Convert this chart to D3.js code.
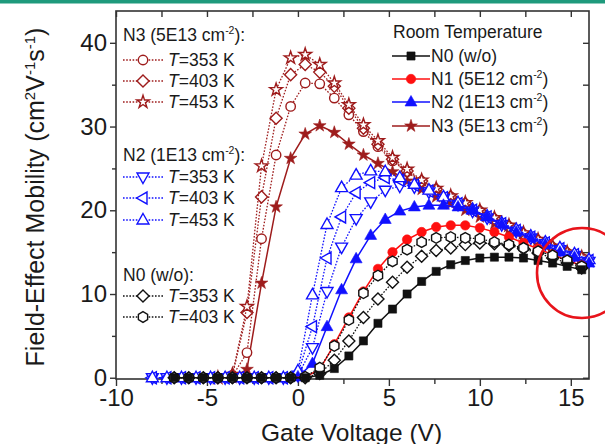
<!DOCTYPE html>
<meta charset="utf-8">
<body style="margin:0;background:#fff">
<svg id="chart" width="605" height="444"></svg>
<script src="https://d3js.org/d3.v7.min.js"></script>
<style>
  text { font-family: "Liberation Sans", Arial, sans-serif; fill: #1a1a1a; }
</style>
<script>
// gate voltage sweeps (two interleaved grids used by the measurements)
var gridA = [-7.6, -6.8, -6.0, -5.2, -4.4, -3.6, -2.8, -2.0, -1.2, -0.4, 0.4, 1.2, 2.0, 2.8, 3.6,
  4.4, 5.2, 6.0, 6.8, 7.6, 8.4, 9.2, 10.0, 10.8, 11.6, 12.4, 13.2, 14.0, 14.8, 15.6]
var gridB = [-8.0, -7.2, -6.4, -5.6, -4.8, -4.0, -3.2, -2.4, -1.6, -0.8, 0.0, 0.8, 1.6, 2.4, 3.2,
  4.0, 4.8, 5.6, 6.4, 7.2, 8.0, 8.8, 9.6, 10.4, 11.2, 12.0, 12.8, 13.6, 14.4, 15.2, 16.0]

// room temperature (gridA unless noted)
var n0RT = [null, 0, 0, 0, 0, 0, 0, 0, 0, 0, 0, 0.3, 1.1, 2.6, 4.4,
  6.5, 8.2, 10.0, 11.5, 12.7, 13.5, 14.0, 14.3, 14.4, 14.4, 14.3, 14.0, 13.7, 13.3, 12.9]
var n1RT = [null, null, null, null, null, null, null, null, null, 0, 0.1, 1.0, 4.0, 7.2, 10.3,
  13.0, 15.0, 16.5, 17.4, 18.0, 18.2, 18.2, 17.9, 17.4, 16.8, 16.1, 15.4, 14.7, 14.0, 13.4]
var n2RT = [null, null, null, null, null, null, null, null, null, null, 0.1, 1.7, 6.1, 10.5, 14.2,
  17.0, 18.9, 19.9, 20.4, 20.6, 20.6, 20.4, 20.0, 19.2, 18.3, 17.4, 16.7, 15.9, 15.0, 14.4, 13.7] // gridB
var n3RT = [null, null, null, null, null, 0, 1.0, 11.3, 20.4, 26.2, 29.1, 30.1, 29.3, 27.9, 26.6,
  25.6, 24.6, 23.5, 22.5, 21.6, 20.8, 20.0, 19.2, 18.4, 17.6, 16.8, 16.0, 15.2, 14.5, 13.8]

// N3 (5E13) at high temperature (gridA)
var n3T353 = [null, null, null, null, 0, 0.2, 3.0, 16.6, 26.6, 32.4, 35.2, 35.1, 33.4, 31.4, 29.4,
  27.6, 25.9, 24.6, 23.4, 22.4, 21.6, 20.7, 19.8, 18.9, 18.0, 17.1, 16.3, 15.5, 14.9, 14.3]
var n3T403 = [null, null, null, null, 0, 0.3, 7.8, 21.6, 31.0, 36.2, 37.4, 36.5, 34.8, 32.2, 29.8,
  27.9, 26.1, 24.7, 23.5, 22.5, 21.6, 20.8, 19.9, 19.0, 18.1, 17.2, 16.4, 15.6, 14.9, 14.3]
var n3T453 = [null, null, null, null, 0, 0.4, 8.5, 25.3, 34.4, 38.2, 38.6, 37.4, 35.2, 32.6, 30.2,
  28.3, 26.3, 24.9, 23.6, 22.6, 21.7, 20.9, 20.0, 19.1, 18.2, 17.3, 16.5, 15.7, 15.0, 14.4]

// N2 (1E13) at high temperature (gridB)
var n2T353 = [0, 0, 0, 0, 0, 0, 0, 0, 0, 0, 0.3, 3.6, 10.3, 15.6, 19.0,
  21.0, 22.4, 22.9, 22.8, 22.2, 21.4, 20.7, 19.9, 19.1, 18.3, 17.5, 16.7, 16.0, 15.3, 14.6, 13.9]
var n2T403 = [0, 0, 0, 0, 0, 0, 0, 0, 0, 0, 0.5, 6.1, 14.3, 19.2, 22.1,
  23.3, 23.9, 23.6, 23.0, 22.3, 21.5, 20.8, 20.0, 19.2, 18.4, 17.6, 16.8, 16.1, 15.4, 14.7, 14.0]
var n2T453 = [0, 0, 0, 0, 0, 0, 0, 0, 0, 0, 0.8, 9.9, 18.3, 22.7, 24.2,
  24.7, 24.6, 23.9, 23.1, 22.4, 21.6, 20.9, 20.1, 19.3, 18.5, 17.7, 16.9, 16.2, 15.5, 14.8, 14.1]

// N0 (w/o) at high temperature (gridA)
var n0T353 = [null, 0, 0, 0, 0, 0, 0, 0, 0, 0, 0, 0.5, 2.1, 4.4, 7.2,
  9.4, 11.4, 13.2, 14.5, 15.2, 15.5, 15.9, 16.1, 16.0, 15.8, 15.4, 14.9, 14.3, 13.7, 13.1]
var n0T403 = [null, 0, 0, 0, 0, 0, 0, 0, 0, 0, 0.1, 1.2, 3.8, 6.9, 10.1,
  12.2, 13.9, 15.3, 16.2, 16.7, 16.8, 16.7, 16.6, 16.2, 15.9, 15.5, 15.1, 14.6, 14.0, 13.3]

var xTicks = [-10, -5, 0, 5, 10, 15]
var yTicks = [0, 10, 20, 30, 40]

var DARK = '#9e1c1c', RED = '#ff1010', BLUE = '#1010ff', BLACK = '#111'

// custom marker shapes
function poly(pts) {
  return { draw: function (ctx, size) {
    var r = Math.sqrt(size)
    pts.forEach(function (p, i) { i ? ctx.lineTo(p[0] * r, p[1] * r) : ctx.moveTo(p[0] * r, p[1] * r) })
    ctx.closePath()
  } }
}
var hexPts = d3.range(6).map(function (i) { var a = Math.PI / 3 * i - Math.PI / 2; return [0.62 * Math.cos(a), 0.62 * Math.sin(a)] })
var shapes = {
  square: d3.symbolSquare,
  circle: d3.symbolCircle,
  star: d3.symbolStar,
  hex: poly(hexPts),
  diamond: poly([[0, -0.7], [0.7, 0], [0, 0.7], [-0.7, 0]]),
  up: poly([[0, -0.72], [0.66, 0.44], [-0.66, 0.44]]),
  down: poly([[0, 0.72], [0.66, -0.44], [-0.66, -0.44]]),
  left: poly([[-0.72, 0], [0.44, -0.66], [0.44, 0.66]])
}
var sizes = { square: 66, circle: 70, star: 50, hex: 74, diamond: 74, up: 82, down: 82, left: 82 }

// drawing order, back to front
var series = [
  { x: gridA, y: n3RT, color: DARK, shape: 'star', filled: true, dotted: false },
  { x: gridA, y: n3T353, color: DARK, shape: 'circle', filled: false, dotted: true },
  { x: gridA, y: n3T403, color: DARK, shape: 'diamond', filled: false, dotted: true },
  { x: gridA, y: n3T453, color: DARK, shape: 'star', filled: false, dotted: true },
  { x: gridB, y: n2T353, color: BLUE, shape: 'down', filled: false, dotted: true },
  { x: gridB, y: n2T403, color: BLUE, shape: 'left', filled: false, dotted: true },
  { x: gridB, y: n2T453, color: BLUE, shape: 'up', filled: false, dotted: true },
  { x: gridB, y: n2RT, color: BLUE, shape: 'up', filled: true, dotted: false },
  { x: gridA, y: n1RT, color: RED, shape: 'circle', filled: true, dotted: false },
  { x: gridA, y: n0T353, color: BLACK, shape: 'diamond', filled: false, dotted: true },
  { x: gridA, y: n0T403, color: BLACK, shape: 'hex', filled: false, dotted: true },
  { x: gridA, y: n0RT, color: BLACK, shape: 'square', filled: true, dotted: false }
]

var svg = d3.select('#chart')
var pL = 116, pR = 589, pT = 11, pB = 379

var x = d3.scaleLinear().domain([-10, 16]).range([pL, pR])
var y = d3.scaleLinear().domain([-0.15, 43.8]).range([pB, pT])

// teal strip at the very top
svg.append('rect').attr('x', 0).attr('y', 0).attr('width', 605).attr('height', 3.5).attr('fill', '#1e9a7c')

// axes: outward ticks left/bottom, inward mirror ticks right/top
var axisColor = '#333'
function styleAxis(g) {
  g.select('.domain').remove()
  g.selectAll('line').attr('stroke', axisColor).attr('stroke-width', 1.4)
  g.selectAll('text').attr('font-size', 24).attr('fill', '#1a1a1a').attr('font-family', '"Liberation Sans", Arial, sans-serif')
}
svg.append('g').attr('transform', 'translate(0,' + pB + ')')
  .call(d3.axisBottom(x).tickValues(d3.range(-10, 16.1, 2.5)).tickSize(7).tickPadding(3)
    .tickFormat(function (d) { return xTicks.indexOf(d) > -1 ? d : '' }))
  .call(styleAxis)
  .selectAll('.tick line').attr('y2', function (d) { return xTicks.indexOf(d) > -1 ? 7 : 5 })
svg.append('g').attr('transform', 'translate(0,' + pT + ')')
  .call(d3.axisBottom(x).tickValues(d3.range(-10, 16.1, 2.5)).tickSize(6).tickFormat(''))
  .call(styleAxis)
svg.append('g').attr('transform', 'translate(' + pL + ',0)')
  .call(d3.axisLeft(y).tickValues(d3.range(0, 41, 5)).tickSize(6).tickPadding(3)
    .tickFormat(function (d) { return yTicks.indexOf(d) > -1 ? d : '' }))
  .call(styleAxis)
  .selectAll('.tick line').attr('x2', function (d) { return yTicks.indexOf(d) > -1 ? -6 : -4 })
svg.append('g').attr('transform', 'translate(' + pR + ',0)')
  .call(d3.axisLeft(y).tickValues(d3.range(0, 41, 5)).tickSize(6).tickFormat(''))
  .call(styleAxis)
svg.append('rect').attr('x', pL).attr('y', pT).attr('width', pR - pL).attr('height', pB - pT)
  .attr('fill', 'none').attr('stroke', axisColor).attr('stroke-width', 1.6)

// axis titles
svg.append('text').attr('x', (pL + pR) / 2 - 1).attr('y', 441).attr('text-anchor', 'middle')
  .attr('font-size', 24.5).text('Gate Voltage (V)')
var yt = svg.append('text').attr('transform', 'translate(44,197) rotate(-90)').attr('text-anchor', 'middle')
  .attr('font-size', 25)
yt.append('tspan').text('Field-Effect Mobility (cm')
yt.append('tspan').attr('dy', -9).attr('font-size', 15).text('2')
yt.append('tspan').attr('dy', 9).text('V')
yt.append('tspan').attr('dy', -9).attr('font-size', 15).text('-1')
yt.append('tspan').attr('dy', 9).text('s')
yt.append('tspan').attr('dy', -9).attr('font-size', 15).text('-1')
yt.append('tspan').attr('dy', 9).text(')')

// data
var plot = svg.append('g')
function marker(g, s, px, py) {
  g.append('path').attr('transform', 'translate(' + px + ',' + py + ')')
    .attr('d', d3.symbol().type(shapes[s.shape]).size(sizes[s.shape]))
    .attr('fill', s.filled ? s.color : '#fff')
    .attr('stroke', s.color).attr('stroke-width', s.filled ? 0.6 : 1.4)
}
series.forEach(function (s) {
  var pts = s.x.map(function (v, i) { return [v, s.y[i]] }).filter(function (p) { return p[1] != null })
  var line = d3.line().x(function (p) { return x(p[0]) }).y(function (p) { return y(p[1]) })
  plot.append('path').attr('d', line(pts)).attr('fill', 'none').attr('stroke', s.color)
    .attr('stroke-width', s.dotted ? 1.3 : 1.5).attr('stroke-dasharray', s.dotted ? '1.6,1.6' : null)
  var g = plot.append('g')
  pts.forEach(function (p) { marker(g, s, x(p[0]), y(p[1])) })
})

// legends
function sampleRow(g, s, x0, x1, cy) {
  g.append('line').attr('x1', x0).attr('x2', x1).attr('y1', cy).attr('y2', cy)
    .attr('stroke', s.color).attr('stroke-width', 1.3).attr('stroke-dasharray', s.dotted ? '1.6,1.6' : null)
  marker(g, s, (x0 + x1) / 2, cy)
}
function supText(g, px, py, size, parts) {
  var t = g.append('text').attr('x', px).attr('y', py).attr('font-size', size)
  parts.forEach(function (p) {
    var ts = t.append('tspan').text(p.t)
    if (p.sup) ts.attr('dy', -size * 0.4).attr('font-size', size * 0.6)
    else if (p.after) ts.attr('dy', size * 0.4)
    if (p.it) ts.attr('font-style', 'italic')
  })
  return t
}
var leg = svg.append('g')
var headers = [
  { cy: 35, parts: [{ t: 'N3 (5E13 cm' }, { t: '-2', sup: true }, { t: '):', after: true }] },
  { cy: 155, parts: [{ t: 'N2 (1E13 cm' }, { t: '-2', sup: true }, { t: '):', after: true }] },
  { cy: 275, parts: [{ t: 'N0 (w/o):' }] }
]
headers.forEach(function (h) { supText(leg, 123, h.cy + 6, 17.5, h.parts) })
var leftRows = [
  { s: series[1], cy: 60, k: '353' }, { s: series[2], cy: 81, k: '403' }, { s: series[3], cy: 102, k: '453' },
  { s: series[4], cy: 177, k: '353' }, { s: series[5], cy: 198, k: '403' }, { s: series[6], cy: 220, k: '453' },
  { s: series[9], cy: 296, k: '353' }, { s: series[10], cy: 317, k: '403' }
]
leftRows.forEach(function (r) {
  sampleRow(leg, r.s, 123, 163, r.cy)
  supText(leg, 168, r.cy + 6, 17.5, [{ t: 'T', it: true }, { t: '=' + r.k + ' K' }])
})
supText(leg, 393, 38, 17.5, [{ t: 'Room Temperature' }])
var rightRows = [
  { s: series[11], cy: 56, parts: [{ t: 'N0 (w/o)' }] },
  { s: series[8], cy: 79, parts: [{ t: 'N1 (5E12 cm' }, { t: '-2', sup: true }, { t: ')', after: true }] },
  { s: series[7], cy: 102, parts: [{ t: 'N2 (1E13 cm' }, { t: '-2', sup: true }, { t: ')', after: true }] },
  { s: series[0], cy: 126, parts: [{ t: 'N3 (5E13 cm' }, { t: '-2', sup: true }, { t: ')', after: true }] }
]
rightRows.forEach(function (r) {
  sampleRow(leg, r.s, 392, 430, r.cy)
  supText(leg, 431, r.cy + 6, 17.5, r.parts)
})

// red highlight circle
svg.append('circle').attr('cx', 582).attr('cy', 273).attr('r', 45)
  .attr('fill', 'none').attr('stroke', '#e8141b').attr('stroke-width', 2.6)
</script>
